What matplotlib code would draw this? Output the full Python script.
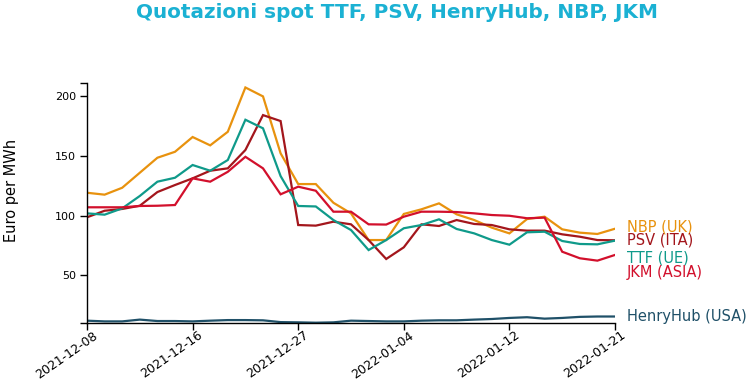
import matplotlib
matplotlib.use('Agg')
import matplotlib.pyplot as plt
import numpy as np

# tick labels every 6 trading days
tick_labels = ['2021-12-08', '2021-12-16', '2021-12-27', '2022-01-04', '2022-01-12', '2022-01-21']

# Euro per MWh, one value per trading day (31 days)
nbp = [119.1, 117.5, 123.3, 135.9, 148.5, 153.5, 165.9, 158.9, 170.3, 207.5, 200.0,
       152.2, 126.4, 126.4, 110.7, 101.8, 79.4, 79.4, 101.3, 105.2, 110.2,
       101.0, 96.2, 89.8, 85.0, 97.0, 99.0, 88.4, 85.6, 84.5, 88.9]
psv = [98.5, 104.0, 105.5, 108.2, 119.7, 125.6, 131.2, 137.6, 139.6, 155.0, 184.3,
       179.3, 92.0, 91.5, 94.8, 92.6, 79.4, 63.5, 73.3, 92.6, 91.2,
       96.2, 92.9, 92.0, 88.4, 87.3, 87.3, 84.2, 82.2, 79.4, 79.2]
ttf = [101.8, 100.7, 106.0, 116.4, 128.4, 131.7, 142.4, 137.6, 146.6, 180.4, 173.2,
       133.1, 108.0, 107.6, 96.2, 87.8, 71.0, 79.4, 89.3, 92.0, 96.8,
       88.7, 85.0, 79.4, 75.5, 85.9, 86.4, 78.6, 76.1, 75.8, 78.9]
jkm = [106.9, 106.9, 106.9, 108.0, 108.2, 108.8, 131.2, 128.4, 136.7, 149.3, 139.6,
       117.8, 124.2, 120.8, 103.2, 103.2, 92.6, 92.4, 99.0, 103.2, 103.2,
       102.9, 101.8, 100.4, 99.8, 97.7, 98.2, 69.6, 64.1, 62.1, 66.9]
henryhub = [11.7, 11.1, 11.1, 12.6, 11.4, 11.4, 11.1, 11.7, 12.2, 12.2, 12.0,
            10.5, 10.3, 10.0, 10.3, 11.7, 11.4, 11.1, 11.1, 11.7, 12.0,
            12.0, 12.6, 13.1, 14.0, 14.6, 13.4, 14.0, 14.9, 15.2, 15.2]

x = np.arange(len(nbp))
tick_pos = np.arange(0, 31, 6)

series = [
    ('NBP (UK)', nbp, '#e8920e', 1.0),
    ('PSV (ITA)', psv, '#a3161c', 0.0),
    ('TTF (UE)', ttf, '#0f9a8a', -12.5),
    ('JKM (ASIA)', jkm, '#d2102c', -13.0),
    ('HenryHub (USA)', henryhub, '#1f5068', 0.0),
]

fig = plt.figure(figsize=(7.51, 3.86), dpi=100)
ax = fig.add_axes([87 / 751, 1 - 323.3 / 386, 528 / 751, 240 / 386])

for name, vals, col, dy in series:
    ax.plot(x, vals, color=col, lw=1.6, solid_joinstyle='miter')
    ax.annotate(name, xy=(x[-1], vals[-1]), xytext=(8.5, dy), textcoords='offset points',
                color=col, fontsize=10.5, va='center', ha='left', annotation_clip=False)

ax.set_xlim(0, 30)
ax.set_ylim(9.5, 211)
ax.set_xticks(tick_pos)
ax.set_xticklabels([])
# rotated date labels, shifted like the original
for pos, lab in zip(tick_pos, tick_labels):
    ax.annotate(lab, xy=(pos, 0), xycoords=('data', 'axes fraction'),
                xytext=(7.9, -9.9), textcoords='offset points', rotation=35,
                rotation_mode='anchor', ha='right', va='baseline', fontsize=9,
                annotation_clip=False)

ax.set_yticks([50, 100, 150, 200])
ax.set_yticks([9.5, 211], minor=True)
ax.tick_params(axis='y', labelsize=8, length=5, width=1, direction='out', pad=3)
ax.tick_params(axis='y', which='minor', length=5, width=1)
ax.tick_params(axis='x', length=5, width=1, direction='out', pad=3)

for s in ['top', 'right']:
    ax.spines[s].set_visible(False)
for s in ['left', 'bottom']:
    ax.spines[s].set_linewidth(1)

fig.text(12 / 751, 1 - 190 / 386, 'Euro per MWh', rotation=90, ha='center', va='center',
         fontsize=10.5)
fig.text(397 / 751, 1 - 13 / 386, 'Quotazioni spot TTF, PSV, HenryHub, NBP, JKM',
         ha='center', va='center', fontsize=14.4, fontweight='bold', color='#1bb1d3')

fig.savefig('out.png', dpi=100)
